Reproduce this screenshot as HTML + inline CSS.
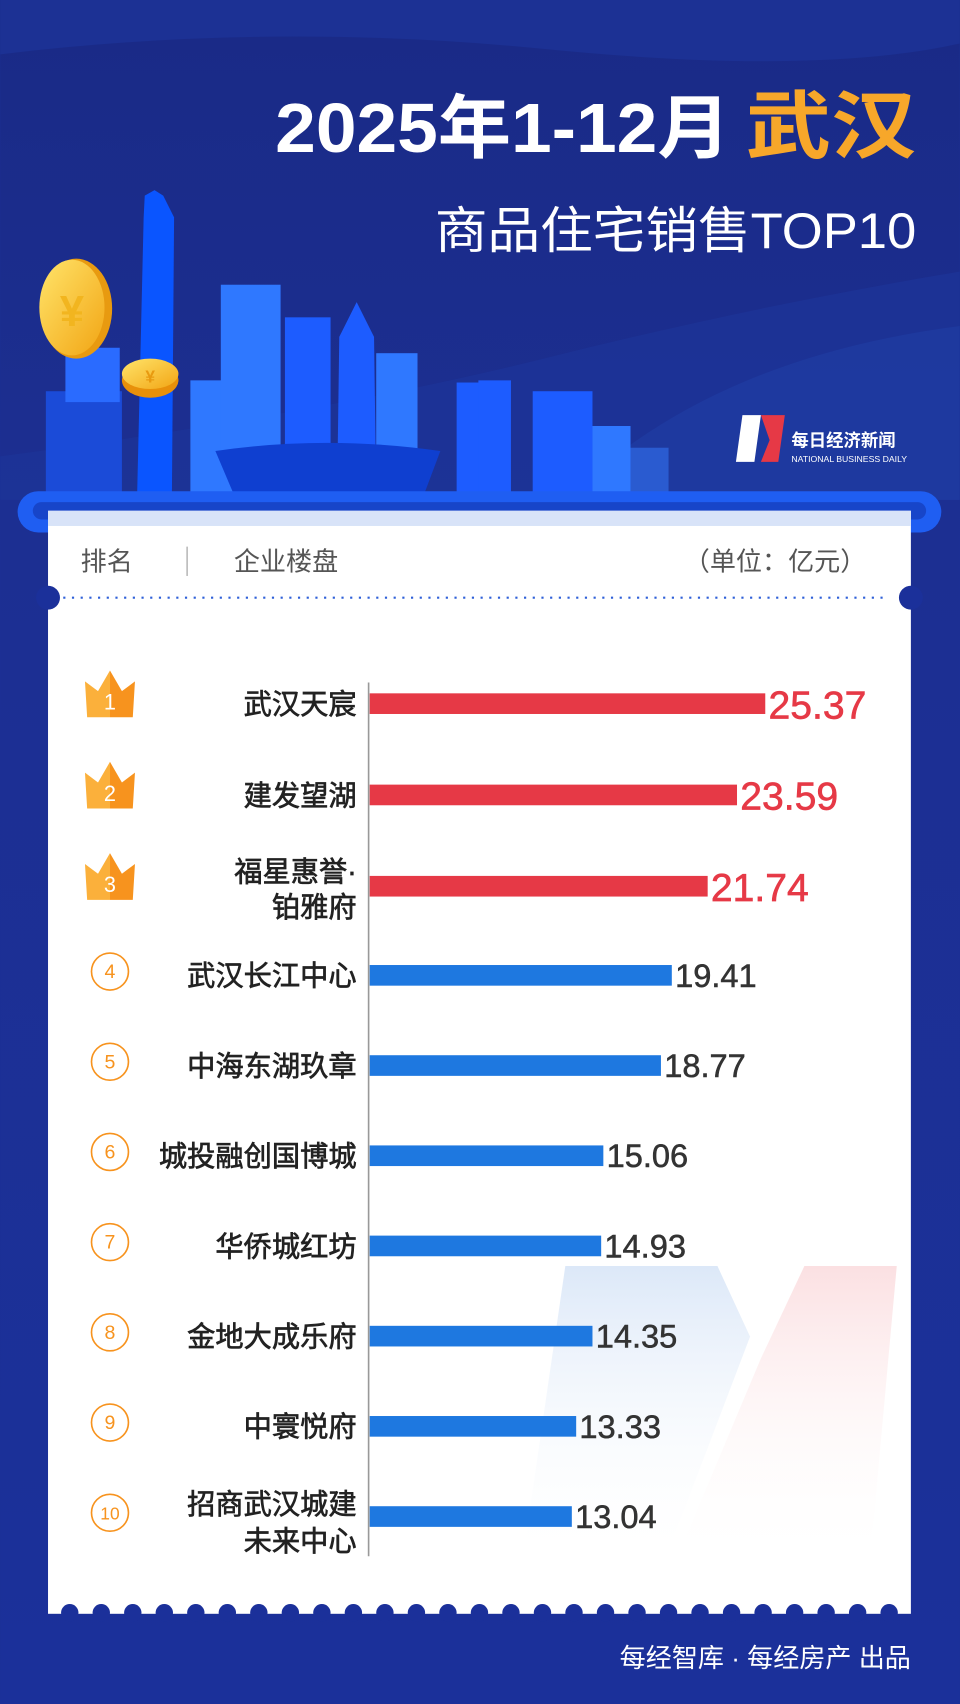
<!DOCTYPE html>
<html><head><meta charset="utf-8"><style>
html,body{margin:0;padding:0;background:#1b2f95;}
svg{display:block;}
text{font-family:"Liberation Sans","Noto Sans CJK SC",sans-serif;}
</style></head><body>
<svg width="960" height="1704" viewBox="0 0 883 1568" xmlns="http://www.w3.org/2000/svg">
<defs>
<linearGradient id="bg" x1="0" y1="0" x2="0" y2="1"><stop offset="0" stop-color="#1a2a86"/><stop offset="0.3" stop-color="#1c2f92"/><stop offset="1" stop-color="#1b309a"/></linearGradient>
<linearGradient id="coin" x1="0" y1="0" x2="1" y2="1"><stop offset="0" stop-color="#ffe46a"/><stop offset="1" stop-color="#f2a514"/></linearGradient>
<linearGradient id="crown" x1="0" y1="0" x2="1" y2="0"><stop offset="0.5" stop-color="#fbb03b"/><stop offset="0.5" stop-color="#f7931e"/></linearGradient>
<linearGradient id="wm1" x1="0" y1="0" x2="0" y2="1"><stop offset="0" stop-color="#dce8f8"/><stop offset="1" stop-color="#ffffff" stop-opacity="0"/></linearGradient>
<linearGradient id="wm2" x1="0" y1="0" x2="0" y2="1"><stop offset="0" stop-color="#fbe0e2"/><stop offset="1" stop-color="#ffffff" stop-opacity="0"/></linearGradient>
</defs>
<rect width="883" height="1568" fill="url(#bg)"/>
<path d="M0 50 Q250 20 500 45 T883 40 V0 H0Z" fill="#1c3194"/>
<path d="M0 420 Q300 380 500 330 T883 250 V460 H0Z" fill="#1d3598" opacity="0.7"/>
<path d="M520 460 Q650 330 883 300 V460Z" fill="#2040a8" opacity="0.5"/>
<text x="253" y="140" font-size="64" font-weight="bold" fill="#fff" textLength="419" lengthAdjust="spacingAndGlyphs">2025年1-12月</text>
<text x="686" y="140" font-size="68" font-weight="bold" fill="#f7a72a" textLength="157" lengthAdjust="spacingAndGlyphs">武汉</text>
<text x="400" y="228" font-size="46" fill="#fff" textLength="443" lengthAdjust="spacingAndGlyphs">商品住宅销售TOP10</text>
<g fill="#2f78ff">
<rect x="42" y="360" width="70" height="95" fill="#1b4bd8"/>
<rect x="60" y="320" width="50" height="50" fill="#2a6bff"/>
<path d="M133 180 L142 175 L150 180 L160 200 L158 455 L126 455 L132 200Z" fill="#0a55ff"/>
<rect x="175" y="350" width="45" height="105"/>
<rect x="203" y="262" width="55" height="193"/>
<rect x="262" y="292" width="42" height="163" fill="#1d5cff"/>
<path d="M312 310 L328 278 L344 310 L346 455 L310 455Z" fill="#1d5cff"/>
<rect x="346" y="325" width="38" height="130"/>
<rect x="420" y="352" width="38" height="103" fill="#1d5cff"/>
<rect x="440" y="350" width="30" height="105" fill="#1d5cff"/>
<rect x="490" y="360" width="55" height="95" fill="#1d5cff"/>
<rect x="545" y="392" width="35" height="63"/>
<rect x="580" y="412" width="35" height="43" fill="#2a5bd0"/>
<path d="M198 415 Q300 400 405 415 L390 455 L215 455Z" fill="#0f3fd0"/>
</g>
<ellipse cx="70" cy="284" rx="33" ry="46" fill="#e89a10"/>
<ellipse cx="66" cy="283" rx="30" ry="44" fill="url(#coin)"/>
<text x="66" y="300" text-anchor="middle" font-size="40" font-weight="bold" fill="#f2b51f">¥</text>
<ellipse cx="138" cy="350" rx="26" ry="16" fill="#e8900a"/>
<ellipse cx="138" cy="344" rx="26" ry="14" fill="url(#coin)"/>
<text x="138" y="352" text-anchor="middle" font-size="16" font-weight="bold" fill="#e89a10">¥</text>
<path d="M683 382 L700 382 L694 425 L677 425Z" fill="#fff"/>
<path d="M700 382 L722 382 L716 425 L700 425 L708 405Z" fill="#e63946"/>
<text x="728" y="411" font-size="16" font-weight="bold" fill="#fff">每日经济新闻</text>
<text x="728" y="425" font-size="8" fill="#fff">NATIONAL BUSINESS DAILY</text>
<rect x="16" y="452" width="850" height="38" rx="19" fill="#1f5ef2"/>
<rect x="30" y="462" width="822" height="16" rx="8" fill="#1745c9"/>
<rect x="44" y="470" width="794" height="1015" fill="#fff"/>
<rect x="44" y="470" width="794" height="14" fill="#d8e3f8"/>
<text x="74" y="525" font-size="24" fill="#555">排名</text>
<line x1="172" y1="503" x2="172" y2="530" stroke="#bbb" stroke-width="1.5"/>
<text x="215" y="525" font-size="24" fill="#555">企业楼盘</text>
<text x="797" y="525" text-anchor="end" font-size="24" fill="#555">（单位：亿元）</text>
<line x1="58" y1="550" x2="812" y2="550" stroke="#2f60d8" stroke-width="2" stroke-dasharray="2 6"/>
<circle cx="44" cy="550" r="11" fill="#1b309a"/>
<circle cx="838" cy="550" r="11" fill="#1b309a"/>
<path d="M520 1165 L660 1165 L690 1230 L610 1440 L480 1440Z" fill="url(#wm1)"/>
<path d="M740 1165 L825 1165 L800 1440 L620 1440 L700 1250Z" fill="url(#wm2)"/>
<line x1="339" y1="628" x2="339" y2="1432" stroke="#999" stroke-width="1.5"/>
<g font-size="26" fill="#222" text-anchor="end" stroke="#222" stroke-width="0.6">
<text x="328" y="657">武汉天宸</text>
<text x="328" y="741">建发望湖</text>
<text x="328" y="811">福星惠誉·</text><text x="328" y="844">铂雅府</text>
<text x="328" y="907">武汉长江中心</text>
<text x="328" y="990">中海东湖玖章</text>
<text x="328" y="1073">城投融创国博城</text>
<text x="328" y="1156">华侨城红坊</text>
<text x="328" y="1239">金地大成乐府</text>
<text x="328" y="1322">中寰悦府</text>
<text x="328" y="1393">招商武汉城建</text><text x="328" y="1427">未来中心</text>
</g>
<g fill="#e63946">
<rect x="340" y="638" width="364" height="19"/>
<rect x="340" y="722" width="338" height="19"/>
<rect x="340" y="806" width="311" height="19"/>
</g>
<g fill="#1e78e0">
<rect x="340" y="888" width="278" height="19"/>
<rect x="340" y="971" width="268" height="19"/>
<rect x="340" y="1054" width="215" height="19"/>
<rect x="340" y="1137" width="213" height="19"/>
<rect x="340" y="1220" width="205" height="19"/>
<rect x="340" y="1303" width="190" height="19"/>
<rect x="340" y="1386" width="186" height="19"/>
</g>
<g font-size="36" fill="#e63946" stroke="#e63946" stroke-width="0.6">
<text x="707" y="661">25.37</text><text x="681" y="745">23.59</text><text x="654" y="829">21.74</text>
</g>
<g font-size="30" fill="#333" stroke="#333" stroke-width="0.5">
<text x="621" y="908">19.41</text><text x="611" y="991">18.77</text><text x="558" y="1074">15.06</text>
<text x="556" y="1157">14.93</text><text x="548" y="1240">14.35</text><text x="533" y="1323">13.33</text><text x="529" y="1406">13.04</text>
</g>
<g>
<path d="M78 627 L90 636 L101 617 L112 636 L124 627 L122 660 L80 660Z" fill="url(#crown)"/>
<text x="101" y="653" text-anchor="middle" font-size="20" fill="#fff">1</text>
<path d="M78 711 L90 720 L101 701 L112 720 L124 711 L122 744 L80 744Z" fill="url(#crown)"/>
<text x="101" y="737" text-anchor="middle" font-size="20" fill="#fff">2</text>
<path d="M78 795 L90 804 L101 785 L112 804 L124 795 L122 828 L80 828Z" fill="url(#crown)"/>
<text x="101" y="821" text-anchor="middle" font-size="20" fill="#fff">3</text>
</g>
<g fill="none" stroke="#f7931e" stroke-width="1.5">
<circle cx="101" cy="894" r="17"/><circle cx="101" cy="977" r="17"/><circle cx="101" cy="1060" r="17"/>
<circle cx="101" cy="1143" r="17"/><circle cx="101" cy="1226" r="17"/><circle cx="101" cy="1309" r="17"/><circle cx="101" cy="1392" r="17"/>
</g>
<g font-size="18" fill="#f7931e" text-anchor="middle">
<text x="101" y="900">4</text><text x="101" y="983">5</text><text x="101" y="1066">6</text><text x="101" y="1149">7</text>
<text x="101" y="1232">8</text><text x="101" y="1315">9</text><text x="101" y="1398" font-size="16">10</text>
</g>
<g fill="#1b309a">
<circle cx="64" cy="1484" r="8"/><circle cx="93" cy="1484" r="8"/><circle cx="122" cy="1484" r="8"/><circle cx="151" cy="1484" r="8"/><circle cx="180" cy="1484" r="8"/><circle cx="209" cy="1484" r="8"/><circle cx="238" cy="1484" r="8"/><circle cx="267" cy="1484" r="8"/><circle cx="296" cy="1484" r="8"/><circle cx="325" cy="1484" r="8"/><circle cx="354" cy="1484" r="8"/><circle cx="383" cy="1484" r="8"/><circle cx="412" cy="1484" r="8"/><circle cx="441" cy="1484" r="8"/><circle cx="470" cy="1484" r="8"/><circle cx="499" cy="1484" r="8"/><circle cx="528" cy="1484" r="8"/><circle cx="557" cy="1484" r="8"/><circle cx="586" cy="1484" r="8"/><circle cx="615" cy="1484" r="8"/><circle cx="644" cy="1484" r="8"/><circle cx="673" cy="1484" r="8"/><circle cx="702" cy="1484" r="8"/><circle cx="731" cy="1484" r="8"/><circle cx="760" cy="1484" r="8"/><circle cx="789" cy="1484" r="8"/><circle cx="818" cy="1484" r="8"/>
</g>
<text x="838" y="1534" text-anchor="end" font-size="24" fill="#fff">每经智库 · 每经房产 出品</text>
</svg>
</body></html>
